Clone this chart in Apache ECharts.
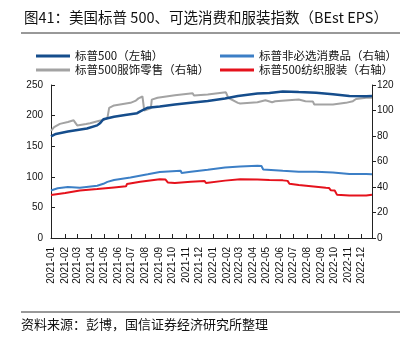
<!DOCTYPE html>
<html><head><meta charset="utf-8">
<script src="https://cdn.jsdelivr.net/npm/echarts@6/dist/echarts.min.js"></script>
<style>html,body{margin:0;padding:0;background:#fff}#c{width:411px;height:343px}</style>
</head><body><div id="c"></div>
<script>
// 标普500（左轴）
const spxDates = ['2021-01-01','2021-01-12','2021-02-08','2021-03-05','2021-03-23','2021-04-15','2021-04-22','2021-04-29','2021-05-23','2021-06-17','2021-07-14','2021-07-21','2021-08-07','2021-09-03','2021-10-07','2021-11-12','2021-12-20','2022-01-28','2022-02-26','2022-04-11','2022-05-08','2022-06-07','2022-07-13','2022-08-21','2022-09-28','2022-11-04','2022-12-12','2022-12-25'];
const spxValues = [166,170,174,177,179,184,188,194,198,201,204,207,213,215,218,221,224,228,232,236,237,239.5,238.5,237.5,235,232,231.5,232];
// 标普500服饰零售（右轴）
const apparelDates = ['2021-01-01','2021-01-08','2021-01-21','2021-02-08','2021-02-21','2021-02-25','2021-03-01','2021-03-05','2021-03-21','2021-03-30','2021-04-20','2021-05-01','2021-05-08','2021-05-12','2021-05-23','2021-06-29','2021-07-10','2021-07-17','2021-07-26','2021-07-28','2021-07-30','2021-08-07','2021-08-14','2021-08-16','2021-08-29','2021-10-07','2021-11-16','2021-11-19','2021-12-20','2022-01-30','2022-02-04','2022-02-26','2022-03-03','2022-04-11','2022-04-29','2022-05-14','2022-05-21','2022-07-13','2022-07-28','2022-08-14','2022-08-17','2022-09-28','2022-10-27','2022-11-12','2022-11-19','2022-12-12','2022-12-25'];
const apparelValues = [84,87,89.5,91,92.3,91.5,88.3,87.3,89.4,90,92,92.8,94,102,104,106,107.5,109.5,111,111,100,101,102,108.5,110,112,113.5,111.8,112.5,114.3,110,106,105.5,106.5,108,106.5,107.3,108.6,107.3,107,104.7,104.7,106,107.3,109,110,110];
// 标普非必选消费品（右轴）
const discDates = ['2021-01-01','2021-01-16','2021-02-08','2021-03-07','2021-04-15','2021-04-29','2021-05-08','2021-05-23','2021-06-29','2021-08-07','2021-09-03','2021-10-20','2021-10-22','2021-11-12','2021-12-20','2022-01-28','2022-03-03','2022-04-11','2022-04-20','2022-04-24','2022-06-07','2022-07-13','2022-08-21','2022-09-28','2022-11-04','2022-12-12','2022-12-25'];
const discValues = [37.3,39,40,39.5,41,42.5,44,45.5,47.5,50,51.8,52.8,51,52,53.5,55.3,56.1,56.6,56.4,53.8,52.7,52,52,51.4,50.2,50.1,50];
// 标普500纺织服装（右轴）
const textileDates = ['2021-01-01','2021-02-02','2021-03-07','2021-04-15','2021-05-23','2021-06-19','2021-06-21','2021-07-21','2021-09-03','2021-09-16','2021-09-21','2021-10-07','2021-11-12','2021-12-13','2021-12-16','2022-01-28','2022-03-03','2022-04-11','2022-05-08','2022-06-07','2022-06-18','2022-06-22','2022-07-13','2022-09-12','2022-09-19','2022-09-23','2022-10-02','2022-10-07','2022-11-04','2022-12-12','2022-12-25'];
const textileValues = [33.8,35.3,37.2,38.4,39.7,40.5,42.3,44.2,46,45.8,43.6,43.1,44.2,44.7,43.1,45,46,45.8,45.5,45.2,44.8,42.5,41.5,39.5,39.3,37.5,37.3,34,33.3,33.3,34];

const names = ['标普500（左轴）','标普500服饰零售（右轴）','标普非必选消费品（右轴）','标普500纺织服装（右轴）'];
const leftTicks = {min:0,max:250,interval:50};
const rightTicks = {min:0,max:120,interval:20};

const zip = (d,v)=>d.map((x,i)=>[x,v[i]]);
const NUM = 'Liberation Sans, Arial, sans-serif';
const CJK = 'Noto Sans CJK SC, sans-serif';

const chart = echarts.init(document.getElementById('c'));
const axisLine = {show:true,lineStyle:{color:'#222',width:1}};
chart.setOption({
  animation:false,
  title:{text:'图41：美国标普 500、可选消费和服装指数（BEst EPS）',left:19,top:5,
    textStyle:{fontSize:14.5,fontWeight:'normal',color:'#111',fontFamily:CJK}},
  legend:[
    {data:[names[0],names[1]],orient:'vertical',left:31,top:44,itemWidth:34,itemHeight:3,itemGap:0,icon:'rect',
     textStyle:{fontSize:11.5,color:'#111',fontFamily:CJK,lineHeight:14}},
    {data:[names[2],names[3]],orient:'vertical',left:215,top:44,itemWidth:34,itemHeight:3,itemGap:0,icon:'rect',
     textStyle:{fontSize:11.5,color:'#111',fontFamily:CJK,lineHeight:14}}
  ],
  graphic:[
    {type:'line',shape:{x1:21,y1:33,x2:400,y2:33},style:{stroke:'#333',lineWidth:1}},
    {type:'line',shape:{x1:21,y1:312,x2:400,y2:312},style:{stroke:'#333',lineWidth:1}},
    {type:'text',left:21,top:318,style:{text:'资料来源：彭博，国信证券经济研究所整理',fontSize:13,fill:'#111',fontFamily:CJK}}
  ],
  grid:{left:51,right:39,top:85,bottom:105,containLabel:false},
  xAxis:{type:'time',min:'2021-01-01',max:'2022-12-25',splitNumber:24,
    minInterval:28*86400000,maxInterval:31*86400000,
    axisLine:axisLine,axisTick:{show:true,inside:true,length:4,lineStyle:{color:'#222'}},
    splitLine:{show:false},
    axisLabel:{rotate:90,fontSize:10,color:'#111',fontFamily:NUM,margin:9,interval:0,
      formatter:'{yyyy}-{MM}',hideOverlap:false}},
  yAxis:[
    {type:'value',position:'left',min:leftTicks.min,max:leftTicks.max,interval:leftTicks.interval,
     axisLine:axisLine,axisTick:{show:true,inside:true,length:4,lineStyle:{color:'#222'}},
     splitLine:{show:false},axisLabel:{fontSize:10,color:'#111',fontFamily:NUM,margin:8}},
    {type:'value',position:'right',min:rightTicks.min,max:rightTicks.max,interval:rightTicks.interval,
     axisLine:axisLine,axisTick:{show:true,inside:false,length:4,lineStyle:{color:'#222'}},
     splitLine:{show:false},axisLabel:{fontSize:10,color:'#111',fontFamily:NUM,margin:5}}
  ],
  series:[
    {name:names[1],type:'line',yAxisIndex:1,data:zip(apparelDates,apparelValues),showSymbol:false,symbol:'none',
     lineStyle:{color:'#A3A3A3',width:2},itemStyle:{color:'#A3A3A3'}},
    {name:names[0],type:'line',yAxisIndex:0,data:zip(spxDates,spxValues),showSymbol:false,symbol:'none',
     lineStyle:{color:'#154D8C',width:2.5},itemStyle:{color:'#154D8C'}},
    {name:names[2],type:'line',yAxisIndex:1,data:zip(discDates,discValues),showSymbol:false,symbol:'none',
     lineStyle:{color:'#3C7FC6',width:2},itemStyle:{color:'#3C7FC6'}},
    {name:names[3],type:'line',yAxisIndex:1,data:zip(textileDates,textileValues),showSymbol:false,symbol:'none',
     lineStyle:{color:'#E5121C',width:2},itemStyle:{color:'#E5121C'}}
  ]
});
</script></body></html>
